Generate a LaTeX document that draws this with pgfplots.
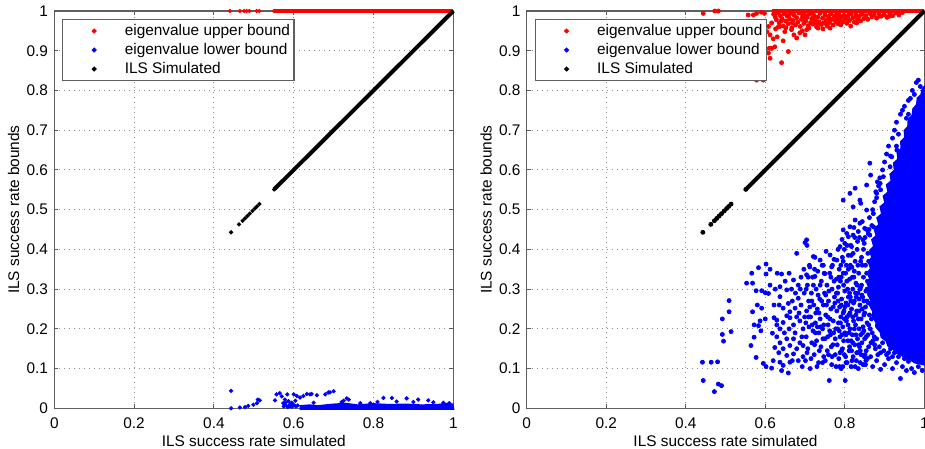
\documentclass[border=0pt]{standalone}
\usepackage{fontspec}
\setmainfont{Liberation Sans}
\usepackage{pgfplots}
\pgfplotsset{compat=1.18}
\definecolor{axgray}{RGB}{95,95,95}
\definecolor{gridgray}{RGB}{140,140,140}
\pgfplotsset{
  myleg/.style={legend image code/.code={\path (0pt,0pt) (28.35pt,0pt); \draw[##1,mark size=0.9pt] plot coordinates {(14.35pt,0pt)};}},
  myaxis/.style={
    scale only axis, height=198.65pt,
    xmin=0,xmax=1,ymin=0,ymax=1,
    xtick={0,0.2,0.4,0.6,0.8,1}, xticklabels={0,0.2,0.4,0.6,0.8,1},
    ytick={0,0.1,0.2,0.3,0.4,0.5,0.6,0.7,0.8,0.9,1},
    yticklabels={0,0.1,0.2,0.3,0.4,0.5,0.6,0.7,0.8,0.9,1},
    tick align=inside, major tick length=2pt,
    grid=major, major grid style={gridgray, line width=0.5pt, dash pattern=on 0.5pt off 2pt},
    axis line style={axgray, line width=0.6pt}, tick style={axgray, line width=0.5pt},
    font=\fontsize{7.7}{9}\selectfont,
    tick label style={font=\fontsize{7.7}{9}\selectfont, black},
    xticklabel style={yshift=-1.4pt},
    yticklabel style={xshift=0.4pt},
    xlabel={ILS success rate simulated}, ylabel={ILS success rate bounds},
    every axis x label/.style={at={(axis description cs:0.5,0)}, anchor=center, yshift=-16.3pt},
    every axis y label/.style={at={(axis description cs:0,0.5)}, anchor=center, rotate=90, yshift=20.3pt},
    label style={font=\fontsize{7.7}{9}\selectfont},
    clip=false,
    legend style={at={(0.02,0.98)}, anchor=north west, draw=axgray, line width=0.6pt,
      font=\fontsize{7.7}{9}\selectfont, inner xsep=1pt, inner ysep=1pt, row sep=0pt,
      nodes={inner sep=1pt, text height=5.8pt, text depth=1.7pt}},
    legend cell align=left,
  }
}
\begin{document}
\begin{tikzpicture}
% ---------------- left panel ----------------
\begin{axis}[myaxis, at={(27.15pt,-204.15pt)}, anchor=south west, width=199.5pt]
\addplot[red, line width=2pt, forget plot] coordinates {(0.551,1) (1,1)};
\addplot[blue, fill=blue, draw=none, forget plot] coordinates {
(0.615,-0.004) (0.615,0.008) (0.64,0.01) (0.66,0.008) (0.7,0.012) (0.73,0.014) (0.76,0.01)
(0.8,0.013) (0.84,0.011) (0.88,0.012) (0.92,0.01) (0.96,0.011) (0.985,0.014) (1.0,0.012) (1.003,-0.004)};
\addplot[black, line width=2pt, forget plot] coordinates {(0.551,0.551) (1,1)};
\addplot[only marks, mark=*, mark size=0.85pt, red, myleg] coordinates {
(0.44,1) (0.465,1) (0.476,1) (0.482,1) (0.489,1) (0.507,1) (0.514,1) (0.551,1)};
\addlegendentry{eigenvalue upper bound}
\addplot[only marks, mark=*, mark size=0.85pt, blue, myleg] coordinates {
(0.443,0.044) (0.443,0.0) (0.465,0.002) (0.478,0.003) (0.486,0.006) (0.499,0.009) (0.508,0.013)
(0.51,0.022) (0.515,0.02) (0.553,0.02) (0.557,0.035) (0.565,0.038) (0.57,0.03) (0.574,0.013)
(0.578,0.022) (0.584,0.035) (0.591,0.01) (0.6,0.035) (0.604,0.019) (0.608,0.031) (0.575,0.005)
(0.58,0.008) (0.585,0.003) (0.59,0.006) (0.595,0.004) (0.6,0.009) (0.605,0.005) (0.61,0.007)
(0.58,0.015) (0.587,0.018) (0.595,0.014) (0.616,0.027) (0.624,0.031) (0.633,0.036) (0.641,0.035)
(0.645,0.036) (0.658,0.033) (0.679,0.035) (0.687,0.04) (0.691,0.04) (0.7,0.043) (0.725,0.019)
(0.733,0.025) (0.738,0.022) (0.767,0.013) (0.792,0.013) (0.825,0.026) (0.846,0.026) (0.858,0.017)
(0.883,0.025) (0.912,0.022) (0.937,0.02) (0.975,0.014) (0.65,0.014) (0.72,0.016) (0.81,0.016)
(0.9,0.016) (0.95,0.015) (0.99,0.013)};
\addlegendentry{eigenvalue lower bound}
\addplot[only marks, mark=*, mark size=0.85pt, black, myleg] coordinates {
(0.443,0.443) (0.463,0.463) (0.472,0.472) (0.478,0.478) (0.484,0.484) (0.49,0.49)
(0.497,0.497) (0.503,0.503) (0.508,0.508) (0.514,0.514) (0.551,0.551)};
\addlegendentry{ILS Simulated}
\end{axis}
% ---------------- right panel ----------------
\begin{axis}[myaxis, at={(263.35pt,-204.15pt)}, anchor=south west, width=198.8pt]
\addplot[red, line width=2pt, forget plot] coordinates {(0.616,1) (1,1)};
\addplot[blue, fill=blue, draw=none, forget plot] coordinates {
(1.002,0.815) (0.993,0.805) (0.99,0.79) (0.981,0.782) (0.979,0.765) (0.97,0.755) (0.968,0.738)
(0.958,0.728) (0.957,0.71) (0.948,0.7) (0.949,0.682) (0.939,0.672) (0.94,0.655) (0.93,0.645)
(0.932,0.628) (0.921,0.618) (0.923,0.6) (0.912,0.59) (0.915,0.573) (0.903,0.563) (0.907,0.545)
(0.895,0.535) (0.899,0.518) (0.887,0.508) (0.891,0.49) (0.879,0.48) (0.884,0.463) (0.872,0.453)
(0.877,0.435) (0.866,0.425) (0.871,0.408) (0.861,0.398) (0.866,0.38) (0.857,0.37) (0.863,0.352)
(0.855,0.342) (0.861,0.325) (0.854,0.315) (0.861,0.298) (0.856,0.288) (0.864,0.27) (0.86,0.26)
(0.869,0.243) (0.867,0.233) (0.877,0.215) (0.876,0.205) (0.888,0.19) (0.89,0.178) (0.903,0.168)
(0.907,0.156) (0.92,0.148) (0.928,0.138) (0.942,0.132) (0.95,0.124) (0.965,0.12) (0.975,0.113)
(0.99,0.11) (1.002,0.107)};
\addplot[black, line width=2pt, forget plot] coordinates {(0.551,0.551) (1,1)};
\addplot[only marks, mark=*, mark size=1pt, red, myleg] coordinates {
(0.444,0.994) (0.473,1) (0.482,1) (0.557,0.99) (0.57,0.99) (0.578,0.994) (0.59,0.997) (0.598,0.994)
(0.604,0.948) (0.608,0.961) (0.612,0.94) (0.616,0.906) (0.608,0.894) (0.641,0.87) (0.658,0.898)
(0.624,0.91) (0.636,0.961) (0.649,0.948) (0.666,0.953) (0.679,0.932) (0.687,0.945) (0.704,0.953)
(0.72,0.97) (0.733,0.957) (0.754,0.966) (0.779,0.974) (0.787,0.978) (0.804,0.983) (0.829,0.987)
(0.854,0.983) (0.888,0.987) (0.913,0.987) (0.578,0.826) (0.595,0.826) (0.612,0.881) (0.61,0.906)
(0.621,0.992) (0.625,0.985) (0.628,0.978) (0.632,0.996) (0.635,0.97) (0.638,0.988) (0.642,0.981)
(0.645,0.962) (0.648,0.993) (0.651,0.975) (0.655,0.987) (0.658,0.968) (0.661,0.98) (0.664,0.994)
(0.667,0.958) (0.67,0.976) (0.673,0.989) (0.676,0.965) (0.679,0.983) (0.682,0.972) (0.685,0.995)
(0.688,0.961) (0.691,0.979) (0.694,0.987) (0.697,0.969) (0.699,0.99) (0.702,0.975) (0.705,0.984)
(0.708,0.963) (0.711,0.992) (0.714,0.971) (0.717,0.981) (0.72,0.967) (0.723,0.988) (0.726,0.977)
(0.729,0.96) (0.732,0.985) (0.735,0.973) (0.738,0.994) (0.741,0.966) (0.744,0.982) (0.747,0.97)
(0.75,0.989) (0.753,0.976) (0.756,0.962) (0.759,0.986) (0.762,0.971) (0.765,0.993) (0.768,0.979)
(0.771,0.965) (0.774,0.987) (0.777,0.974) (0.78,0.982) (0.783,0.968) (0.786,0.991) (0.789,0.977)
(0.792,0.985) (0.795,0.972) (0.798,0.989) (0.801,0.98) (0.805,0.969) (0.808,0.987) (0.812,0.976)
(0.816,0.993) (0.82,0.983) (0.824,0.972) (0.828,0.99) (0.832,0.979) (0.836,0.986) (0.84,0.975)
(0.844,0.992) (0.848,0.981) (0.853,0.988) (0.858,0.979) (0.863,0.994) (0.868,0.985) (0.874,0.99)
(0.88,0.982) (0.886,0.993) (0.892,0.987) (0.899,0.991) (0.906,0.984) (0.913,0.993) (0.92,0.988)
(0.928,0.995) (0.936,0.99) (0.945,0.996) (0.63,0.995) (0.66,0.99) (0.69,0.996) (0.72,0.993)
(0.75,0.997) (0.78,0.994) (0.81,0.996) (0.84,0.998) (0.64,0.975) (0.7,0.98) (0.76,0.98)
(0.626,0.955) (0.633,0.96) (0.652,0.958) (0.668,0.97) (0.693,0.95) (0.71,0.957) (0.731,0.968)
(0.745,0.955) (0.763,0.957) (0.79,0.965) (0.815,0.962) (0.83,0.97) (0.616,0.97) (0.62,0.93)
(0.63,0.935) (0.645,0.925) (0.672,0.94) (0.7,0.94)};
\addlegendentry{eigenvalue upper bound}
\addplot[only marks, mark=*, mark size=1pt, blue, myleg] coordinates {
(0.442,0.116) (0.464,0.116) (0.48,0.117) (0.444,0.07) (0.472,0.042) (0.482,0.061) (0.49,0.057)
(0.492,0.225) (0.492,0.186) (0.495,0.169) (0.509,0.271) (0.509,0.243) (0.514,0.193)
(0.553,0.315) (0.566,0.34) (0.583,0.354) (0.568,0.315) (0.577,0.296) (0.568,0.243) (0.58,0.26)
(0.572,0.21) (0.583,0.208) (0.572,0.179) (0.564,0.158) (0.577,0.128) (0.595,0.113) (0.602,0.105)
(0.589,0.195) (0.602,0.363) (0.602,0.338) (0.591,0.296) (0.6,0.291) (0.608,0.289) (0.591,0.252)
(0.587,0.22) (0.6,0.225) (0.612,0.31) (0.618,0.189) (0.616,0.101)
(0.63,0.34) (0.641,0.338) (0.622,0.26) (0.629,0.222) (0.637,0.306) (0.637,0.281) (0.645,0.252)
(0.654,0.298) (0.658,0.264) (0.662,0.243) (0.671,0.323) (0.679,0.39) (0.683,0.31) (0.683,0.277)
(0.675,0.252) (0.622,0.228) (0.629,0.21) (0.637,0.2) (0.645,0.216) (0.654,0.233) (0.662,0.228)
(0.671,0.21) (0.679,0.23) (0.687,0.22) (0.695,0.2) (0.629,0.18) (0.637,0.165) (0.624,0.153)
(0.645,0.15) (0.654,0.175) (0.662,0.158) (0.671,0.175) (0.679,0.15) (0.687,0.165) (0.695,0.158)
(0.654,0.133) (0.671,0.137) (0.637,0.116) (0.645,0.108) (0.662,0.116) (0.683,0.12) (0.695,0.13)
(0.641,0.095) (0.658,0.089) (0.693,0.105) (0.65,0.32) (0.666,0.3) (0.69,0.26) (0.698,0.29)
(0.69,0.33) (0.697,0.35) (0.7,0.417) (0.705,0.41)
(0.612,0.35) (0.625,0.3) (0.635,0.26) (0.648,0.19) (0.66,0.2) (0.668,0.27) (0.675,0.19)
(0.685,0.24) (0.692,0.18) (0.699,0.23) (0.66,0.34) (0.676,0.29) (0.688,0.3) (0.634,0.14)
(0.668,0.12) (0.62,0.12)
(0.701,0.12) (0.703,0.18) (0.704,0.245) (0.706,0.31) (0.707,0.15) (0.709,0.27) (0.71,0.205)
(0.711,0.36) (0.713,0.1) (0.714,0.23) (0.716,0.29) (0.717,0.165) (0.719,0.33) (0.72,0.195)
(0.722,0.26) (0.723,0.135) (0.725,0.38) (0.726,0.215) (0.728,0.3) (0.729,0.17) (0.731,0.25)
(0.732,0.345) (0.734,0.115) (0.735,0.19) (0.737,0.275) (0.738,0.225) (0.74,0.155) (0.741,0.32)
(0.743,0.36) (0.744,0.2) (0.746,0.26) (0.747,0.13) (0.749,0.29) (0.75,0.175) (0.752,0.235)
(0.753,0.395) (0.755,0.31) (0.756,0.145) (0.758,0.21) (0.759,0.27) (0.761,0.07) (0.762,0.34)
(0.764,0.185) (0.765,0.25) (0.767,0.11) (0.768,0.3) (0.77,0.16) (0.771,0.22) (0.773,0.375)
(0.774,0.28) (0.776,0.135) (0.777,0.2) (0.779,0.325) (0.78,0.245)
(0.702,0.215) (0.705,0.14) (0.708,0.33) (0.712,0.255) (0.715,0.125) (0.718,0.21) (0.721,0.31)
(0.724,0.16) (0.727,0.24) (0.73,0.105) (0.733,0.285) (0.736,0.145) (0.739,0.205) (0.742,0.27)
(0.745,0.175) (0.748,0.34) (0.751,0.12) (0.754,0.26) (0.757,0.18) (0.76,0.295) (0.763,0.225)
(0.766,0.155) (0.769,0.36) (0.772,0.19) (0.775,0.265) (0.778,0.105)
(0.724,0.35) (0.731,0.205) (0.738,0.31) (0.744,0.115) (0.752,0.285) (0.759,0.135) (0.765,0.33)
(0.771,0.255) (0.776,0.175) (0.779,0.29) (0.717,0.27) (0.709,0.23) (0.703,0.3) (0.726,0.19)
(0.735,0.24) (0.757,0.23) (0.762,0.195) (0.768,0.13) (0.773,0.32) (0.747,0.21)
(0.781,0.16) (0.782,0.29) (0.783,0.4) (0.784,0.215) (0.785,0.125) (0.786,0.35) (0.787,0.255)
(0.788,0.18) (0.789,0.32) (0.79,0.23) (0.791,0.1) (0.792,0.275) (0.793,0.425) (0.794,0.15)
(0.795,0.205) (0.796,0.37) (0.797,0.31) (0.798,0.245) (0.799,0.135) (0.8,0.19) (0.801,0.07)
(0.802,0.34) (0.803,0.265) (0.804,0.22) (0.805,0.44) (0.806,0.115) (0.807,0.3) (0.808,0.17)
(0.809,0.385) (0.81,0.235) (0.811,0.145) (0.812,0.325) (0.813,0.2) (0.814,0.28) (0.815,0.41)
(0.816,0.105) (0.817,0.25) (0.818,0.355) (0.819,0.185) (0.82,0.3) (0.821,0.13) (0.822,0.22)
(0.823,0.455) (0.824,0.27) (0.825,0.16) (0.826,0.37) (0.827,0.21) (0.828,0.315) (0.829,0.12)
(0.83,0.245) (0.831,0.4) (0.832,0.175) (0.833,0.29) (0.834,0.1) (0.835,0.34) (0.836,0.2)
(0.837,0.43) (0.838,0.26) (0.839,0.145) (0.84,0.305) (0.841,0.225) (0.842,0.38) (0.843,0.165)
(0.844,0.47) (0.845,0.28) (0.846,0.11) (0.847,0.33) (0.848,0.195) (0.849,0.415) (0.85,0.24)
(0.851,0.135) (0.852,0.36) (0.853,0.295) (0.854,0.18) (0.855,0.45) (0.856,0.215) (0.857,0.125)
(0.858,0.39) (0.859,0.265) (0.86,0.155)
(0.782,0.2) (0.785,0.33) (0.788,0.14) (0.791,0.26) (0.794,0.38) (0.797,0.17) (0.8,0.295)
(0.803,0.115) (0.806,0.23) (0.809,0.35) (0.812,0.155) (0.815,0.27) (0.818,0.12) (0.821,0.39)
(0.824,0.2) (0.827,0.29) (0.83,0.14) (0.833,0.36) (0.836,0.245) (0.839,0.115) (0.842,0.31)
(0.845,0.19) (0.848,0.27) (0.851,0.43) (0.854,0.145) (0.857,0.32) (0.86,0.21)
(0.783,0.27) (0.787,0.105) (0.79,0.36) (0.793,0.185) (0.796,0.24) (0.799,0.4) (0.802,0.13)
(0.805,0.32) (0.808,0.26) (0.811,0.19) (0.814,0.36) (0.817,0.145) (0.82,0.23) (0.823,0.33)
(0.826,0.105) (0.829,0.28) (0.832,0.42) (0.835,0.16) (0.838,0.3) (0.841,0.135) (0.844,0.25)
(0.847,0.4) (0.85,0.175) (0.853,0.12) (0.856,0.3) (0.859,0.44)
(0.784,0.305) (0.789,0.215) (0.792,0.145) (0.796,0.34) (0.799,0.225) (0.803,0.185) (0.806,0.41)
(0.809,0.28) (0.813,0.24) (0.816,0.17) (0.819,0.33) (0.822,0.265) (0.825,0.43) (0.828,0.185)
(0.831,0.31) (0.834,0.225) (0.837,0.155) (0.84,0.37) (0.843,0.285) (0.846,0.205) (0.849,0.13)
(0.852,0.255) (0.855,0.34) (0.858,0.185) (0.861,0.45) (0.864,0.2) (0.866,0.165) (0.862,0.235)
(0.786,0.195) (0.791,0.33) (0.795,0.105) (0.8,0.255) (0.804,0.36) (0.808,0.21) (0.812,0.29)
(0.816,0.385) (0.82,0.165) (0.824,0.345) (0.828,0.235) (0.832,0.14) (0.836,0.275) (0.84,0.185)
(0.844,0.36) (0.848,0.235) (0.852,0.11) (0.856,0.27) (0.86,0.37) (0.863,0.285) (0.867,0.225)
(0.869,0.19) (0.871,0.17) (0.874,0.18) (0.877,0.15) (0.883,0.135) (0.887,0.155) (0.898,0.145)
(0.91,0.14) (0.92,0.13)
(0.862,0.48) (0.87,0.5) (0.875,0.52) (0.868,0.46) (0.878,0.545) (0.885,0.56) (0.872,0.49)
(0.88,0.53) (0.888,0.58) (0.895,0.6) (0.882,0.57) (0.9,0.62) (0.89,0.55) (0.905,0.64)
(0.91,0.66) (0.915,0.635) (0.92,0.68) (0.925,0.7) (0.93,0.72) (0.935,0.69) (0.94,0.74)
(0.945,0.75) (0.95,0.76) (0.955,0.73) (0.96,0.775) (0.965,0.78) (0.97,0.8) (0.98,0.82)
(0.985,0.826) (0.99,0.81) (0.975,0.79) (0.93,0.66) (0.96,0.74)
(0.863,0.617) (0.865,0.587) (0.855,0.562) (0.826,0.554) (0.813,0.541) (0.796,0.524) (0.838,0.524)
(0.84,0.516) (0.821,0.507) (0.855,0.499) (0.88,0.541) (0.889,0.566) (0.897,0.583) (0.914,0.608)
(0.918,0.633) (0.931,0.65) (0.796,0.449) (0.813,0.457) (0.826,0.474) (0.838,0.466) (0.809,0.432)
(0.821,0.436) (0.834,0.445) (0.85,0.453) (0.788,0.407) (0.8,0.415) (0.817,0.407) (0.846,0.424)
(0.863,0.436) (0.872,0.457) (0.704,0.424) (0.721,0.382) (0.712,0.356) (0.738,0.373) (0.746,0.36)
(0.763,0.386) (0.767,0.356) (0.78,0.373) (0.704,0.336) (0.725,0.332) (0.75,0.339)
(0.87,0.105) (0.88,0.12) (0.89,0.098) (0.9,0.11) (0.91,0.125) (0.92,0.1) (0.93,0.115) (0.94,0.075)
(0.945,0.105) (0.955,0.095) (0.96,0.118) (0.968,0.1) (0.975,0.09) (0.985,0.105) (0.995,0.095)
(0.89,0.14) (0.905,0.135) (0.915,0.15) (0.925,0.14) (0.935,0.13) (0.95,0.125) (0.875,0.16)
(0.865,0.13) (0.88,0.175) (0.895,0.165) (0.905,0.18)};
\addlegendentry{eigenvalue lower bound}
\addplot[only marks, mark=*, mark size=1pt, black, myleg] coordinates {
(0.443,0.443) (0.463,0.463) (0.472,0.472) (0.478,0.478) (0.484,0.484) (0.49,0.49)
(0.497,0.497) (0.503,0.503) (0.508,0.508) (0.514,0.514) (0.551,0.551)};
\addlegendentry{ILS Simulated}
\end{axis}
\pgfresetboundingbox
\path[use as bounding box] (0pt,0pt) rectangle (462.5pt,-224.5pt);
\end{tikzpicture}
\end{document}
